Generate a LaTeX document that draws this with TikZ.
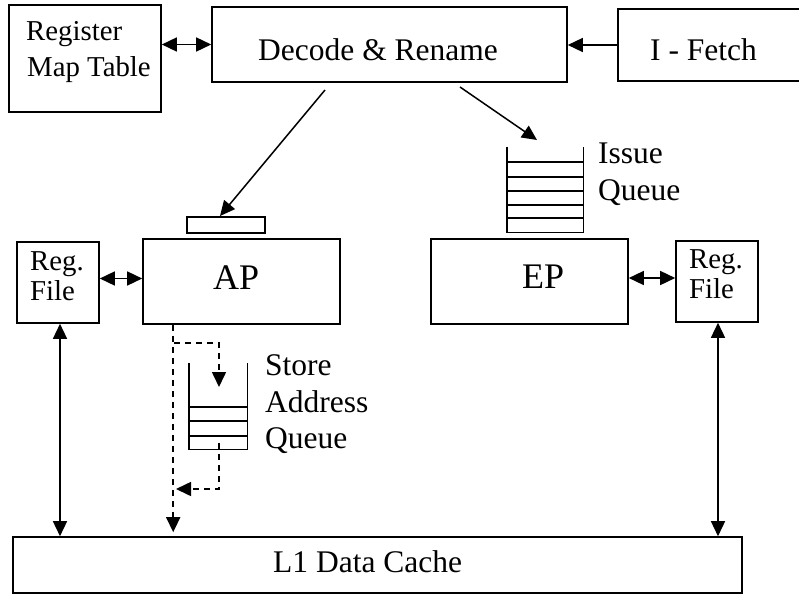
\documentclass[tikz,border=0pt]{standalone}
\usepackage{fontspec}
\setmainfont{Liberation Serif}
\usetikzlibrary{arrows.meta,calc}
\begin{document}
\begin{tikzpicture}[x=1pt,y=-1pt,
  box/.style={draw,line width=1.6pt,inner sep=0pt},
  ghost/.style={inner sep=0pt},
  lab/.style={anchor=base west,inner sep=0pt},
  txtA/.style={font=\fontsize{31.5}{37}\selectfont},
  txtB/.style={font=\fontsize{28.8}{34}\selectfont},
  txtC/.style={font=\fontsize{36}{42}\selectfont},
  qline/.style={line width=1.4pt},
  tip/.tip={Triangle[length=15pt,width=14pt]},
  arr/.style={line width=1.5pt,-tip},
  dbl/.style={line width=1.5pt,tip-tip},
  dsh/.style={line width=1.6pt,dash pattern=on 6pt off 5pt,-tip}]
\useasboundingbox (0,0) rectangle (799,594);
\clip (0,0) rectangle (799,594);

% boxes
\node[box,minimum width=152pt,minimum height=107pt] (rmt) at (85,58.5) {};
\node[box,minimum width=355pt,minimum height=75pt] (dec) at (389.5,44.5) {};
\node[box,minimum width=202pt,minimum height=72pt] (ifetch) at (719,45) {};
\node[box,minimum width=78pt,minimum height=16pt] (apq) at (226,225) {};
\node[box,minimum width=197pt,minimum height=85pt] (ap) at (241.5,281.5) {};
\node[box,minimum width=82pt,minimum height=81pt] (rfl) at (58,282.5) {};
\node[box,minimum width=197pt,minimum height=85pt] (ep) at (529.5,281.5) {};
\node[box,minimum width=82pt,minimum height=81pt] (rfr) at (717,281.5) {};
\node[box,minimum width=729pt,minimum height=56pt] (l1) at (377.5,565) {};

% issue queue
\node[ghost,minimum width=76pt,minimum height=85pt] (iq) at (545,189.5) {};
\draw[qline] (iq.north west) -- (iq.south west) -- (iq.south east) -- (iq.north east);
\foreach \yy in {162,177,191,205,218}
  \draw[qline] (iq.west |- 0,\yy) -- (iq.east |- 0,\yy);

% store address queue
\node[ghost,minimum width=58pt,minimum height=86pt] (sq) at (218,406) {};
\draw[qline] (sq.north west) -- (sq.south west) -- (sq.south east) -- (sq.north east);
\foreach \yy in {407,421,436}
  \draw[qline] (sq.west |- 0,\yy) -- (sq.east |- 0,\yy);

% labels
\node[lab,txtB] (t1) at (26,41) {Register};
\node[lab,txtB] (t2) at (27,76) {Map Table};
\node[lab,txtA] (t3) at (258,60) {Decode \& Rename};
\node[lab,txtA] (t4) at (650,60) {I - Fetch};
\node[lab,txtA] (t5) at (598,163) {Issue};
\node[lab,txtA] (t6) at (598,200) {Queue};
\node[lab,txtC] (t7) at (213,289) {AP};
\node[lab,txtC] (t8) at (522,288) {EP};
\node[lab,txtB] (t9) at (30,270) {Reg.};
\node[lab,txtB] (t10) at (30,300) {File};
\node[lab,txtB] (t11) at (689,268) {Reg.};
\node[lab,txtB] (t12) at (689,298) {File};
\node[lab,txtA] (t13) at (265,375) {Store};
\node[lab,txtA] (t14) at (265,412) {Address};
\node[lab,txtA] (t15) at (265,448) {Queue};
\node[lab,txtA] (t16) at (273,572) {L1 Data Cache};

% connectors
\draw[dbl] (rmt.east |- dec.west) -- (dec.west);
\draw[arr] (ifetch.west) -- (ifetch.west -| dec.east);
\coordinate (a1) at (325,90);
\coordinate (a2) at (220,216);
\draw[arr] (a1) -- (a2);
\coordinate (b1) at (460,87);
\coordinate (b2) at (537,140);
\draw[arr] (b1) -- (b2);
\draw[dbl] ([yshift=4pt]rfl.east) -- ([yshift=4pt]rfl.east -| ap.west);
\draw[dbl] ([yshift=3.5pt]ep.east) -- ([yshift=3.5pt]ep.east -| rfr.west);
\draw[dbl] ([xshift=2pt]rfl.south) -- ([xshift=2pt]rfl.south |- l1.north);
\draw[dbl] ([xshift=1pt]rfr.south) -- ([xshift=1pt]rfr.south |- l1.north);

% dashed store-address paths
\coordinate (d0) at ([xshift=31pt]ap.south west);
\coordinate (d1) at (174,343);
\coordinate (d2) at (219,387);
\coordinate (d3) at (219,443);
\coordinate (d4) at (176,489);
\draw[dsh,shorten >=4pt] (d0) -- (d0 |- l1.north);
\draw[dsh] (d1) -| (d2);
\draw[dsh] (d3) |- (d4);
\end{tikzpicture}
\end{document}
